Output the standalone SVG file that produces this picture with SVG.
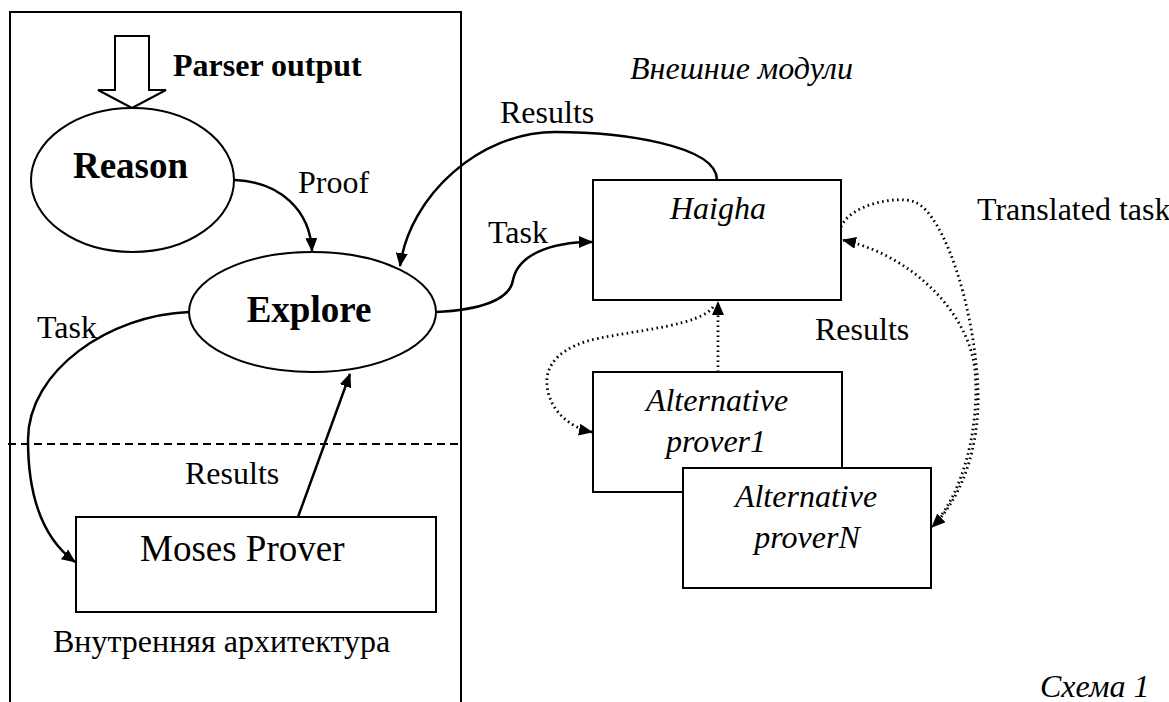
<svg xmlns="http://www.w3.org/2000/svg" width="1169" height="702" viewBox="0 0 1169 702">
<style>
  text { font-family: "Liberation Serif", "Times New Roman", Tinos, "DejaVu Serif", serif; font-size: 32px; fill: #000; }
  .b { font-weight: bold; }
  .i { font-style: italic; }
  .big { font-size: 37px; }
  .shape { fill: #fff; stroke: #000; stroke-width: 2; }
  .conn { fill: none; stroke: #000; stroke-width: 2.5; }
  .dot { fill: none; stroke: #000; stroke-width: 2.8; stroke-dasharray: 1.6,3.4; }
</style>
<defs>
  <marker id="ah" viewBox="0 0 14 12" refX="13" refY="6" markerWidth="14" markerHeight="12" orient="auto" markerUnits="userSpaceOnUse">
    <path d="M0,0 L14,6 L0,12 z" fill="#000"/>
  </marker>
</defs>
<rect width="1169" height="702" fill="#fff"/>

<g id="inner-architecture">
  <rect x="10" y="12" width="451" height="720" fill="none" stroke="#000" stroke-width="2"/>
  <line x1="8" y1="444" x2="461" y2="444" stroke="#000" stroke-width="2" stroke-dasharray="8,5"/>
  <text x="53" y="652">Внутренняя архитектура</text>
</g>

<g id="parser-output">
  <path d="M115,36 L149,36 L149,90 L166,90 L132,108 L98,90 L115,90 Z" fill="#fff" stroke="#000" stroke-width="2"/>
  <text class="b" x="173" y="76">Parser output</text>
</g>

<g id="reason">
  <ellipse class="shape" cx="132.5" cy="180" rx="101.5" ry="72"/>
  <text class="b big" x="130.5" y="178" text-anchor="middle">Reason</text>
</g>

<g id="explore">
  <ellipse class="shape" cx="312.5" cy="312" rx="123.5" ry="60"/>
  <text class="b big" x="309" y="322" text-anchor="middle">Explore</text>
</g>

<g id="moses-prover">
  <rect class="shape" x="76" y="517" width="360" height="95"/>
  <text class="big" x="140" y="561">Moses Prover</text>
</g>

<g id="external-title">
  <text class="i" x="630" y="79">Внешние модули</text>
</g>

<g id="haigha">
  <rect class="shape" x="593" y="180" width="248" height="120"/>
  <text class="i" x="670" y="219">Haigha</text>
</g>

<g id="prover1">
  <rect class="shape" x="593" y="372" width="249" height="120"/>
  <text class="i" x="717" y="411" text-anchor="middle">Alternative</text>
  <text class="i" x="716" y="452" text-anchor="middle">prover1</text>
</g>

<g id="proverN">
  <rect class="shape" x="683" y="468" width="248" height="120"/>
  <text class="i" x="806" y="507" text-anchor="middle">Alternative</text>
  <text class="i" x="807" y="548" text-anchor="middle">proverN</text>
</g>

<g id="connectors">
  <path class="conn" d="M235,180 C280,182 310,210 312,251" marker-end="url(#ah)"/>
  <path class="conn" d="M717,180 C717,145 620,132 555,132 C480,132 410,195 400,266" marker-end="url(#ah)"/>
  <path class="conn" d="M436,312 C480,310 510,300 513,280 C518,255 550,242 592,242" marker-end="url(#ah)"/>
  <path class="conn" d="M189,312 C110,315 28,370 28,440 C28,500 45,540 75,562" marker-end="url(#ah)"/>
  <path class="conn" d="M298,517 L350,374" marker-end="url(#ah)"/>
  <path class="dot" d="M718,372 L718,302" marker-end="url(#ah)"/>
  <path class="dot" d="M713,307 C700,325 640,330 600,338 C560,346 545,365 547,385 C549,410 570,428 592,432" marker-end="url(#ah)"/>
  <path class="dot" d="M841,227 C850,205 895,195 915,202 C945,215 975,310 978,390 C980,450 960,500 932,527" marker-end="url(#ah)"/>
  <path class="dot" d="M936,522 C962,492 980,430 975,370 C968,310 910,255 843,240" marker-end="url(#ah)"/>
</g>

<g id="labels">
  <text x="298" y="193">Proof</text>
  <text x="37" y="338">Task</text>
  <text x="185" y="484">Results</text>
  <text x="500" y="123">Results</text>
  <text x="488" y="243">Task</text>
  <text x="977" y="220">Translated task</text>
  <text x="815" y="340">Results</text>
  <text class="i" x="1040" y="697">Схема 1</text>
</g>
</svg>
